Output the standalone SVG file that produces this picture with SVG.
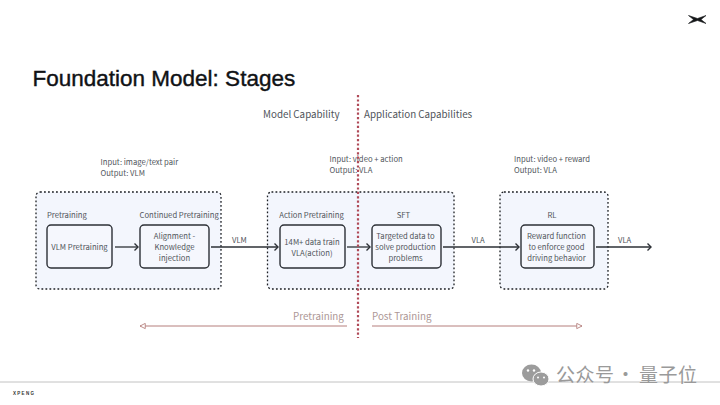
<svg xmlns="http://www.w3.org/2000/svg" width="720" height="405" viewBox="0 0 720 405">
<style>
text{font-family:"Noto Sans CJK SC","Noto Sans",sans-serif;font-size:7.7px;fill:#50555b}
.m{text-anchor:middle}
.group{fill:#f3f6fd;stroke:#1c1f24;stroke-width:1.3;stroke-dasharray:1.8 2.2}
.inner{fill:#f5f7fd;stroke:#2c3036;stroke-width:1.4}
.flow{fill:none;stroke:#2c3036;stroke-width:1.3}
.span{stroke:#b57f7c;stroke-width:1;fill:none}
.big{font-size:9.8px}
.red{font-size:9.8px;fill:#ad9796}
.cjk{font-size:19px;fill:#9a9a9a;font-family:"Noto Sans CJK SC",sans-serif;letter-spacing:.5px}
</style>
<defs>
<marker id="arr" viewBox="0 0 8 8" refX="7" refY="4" markerWidth="8" markerHeight="8" markerUnits="userSpaceOnUse" orient="auto"><path d="M3.500 0.500L7 4L3.500 7.500" fill="none" stroke="#2c3036" stroke-width="1.400"/></marker>
<marker id="open" viewBox="0 0 8 8" refX="7" refY="4" markerWidth="7" markerHeight="7" markerUnits="userSpaceOnUse" orient="auto"><path d="M1 1L7 4L1 7Z" fill="#fff" stroke="#b57f7c" stroke-width="1"/></marker>
</defs>
<rect width="720" height="405" fill="#fff"/>
<g id="logo"><path d="M688.500 15.500L697.500 18.500L706 15.500L701 19.500L706 23.500L697.500 20.500L688.500 23.500L693.500 19.500Z" fill="#15171a" stroke="#15171a" stroke-width=".6"/></g>
<g id="title"><text x="32.500" y="85.500" style="font-family:'Liberation Sans',sans-serif;font-size:22.500px;fill:#101215;stroke:#101215;stroke-width:.4px">Foundation Model: Stages</text></g>
<g id="headings">
<text class="big" x="263" y="118">Model Capability</text>
<text class="big" x="364" y="118">Application Capabilities</text>
</g>
<g id="stage-1">
<text x="100.500" y="165">Input: image/text pair</text>
<text x="100.500" y="176">Output: VLM</text>
<rect class="group" x="36" y="192" width="185" height="97" rx="4"/>
<text x="47" y="218">Pretraining</text>
<text x="139.500" y="218">Continued Pretraining</text>
</g>
<g id="vlm-pretraining">
<rect class="inner" x="47" y="225" width="65" height="43" rx="4"/>
<text class="m" x="79.500" y="250">VLM Pretraining</text>
</g>
<g id="alignment">
<rect class="inner" x="140" y="225" width="69" height="43" rx="4"/>
<text class="m" x="174.500" y="239">Alignment -</text>
<text class="m" x="174.500" y="250">Knowledge</text>
<text class="m" x="174.500" y="261">injection</text>
</g>
<g id="stage-2">
<text x="329.500" y="162">Input: video + action</text>
<text x="329.500" y="173">Output: VLA</text>
<rect class="group" x="267.500" y="192" width="186.500" height="97" rx="4"/>
<text class="m" x="311.500" y="218">Action Pretraining</text>
<text class="m" x="403.500" y="218">SFT</text>
</g>
<g id="action-pretraining">
<rect class="inner" x="280" y="225" width="65" height="43" rx="4"/>
<text class="m" x="312" y="244.500">14M+ data train</text>
<text class="m" x="312" y="255.500">VLA(action)</text>
</g>
<g id="sft">
<rect class="inner" x="372" y="225" width="69" height="43" rx="4"/>
<text class="m" x="405.500" y="239">Targeted data to</text>
<text class="m" x="405.500" y="250">solve production</text>
<text class="m" x="405.500" y="261">problems</text>
</g>
<g id="stage-3">
<text x="514" y="162">Input: video + reward</text>
<text x="514" y="173">Output: VLA</text>
<rect class="group" x="500" y="192" width="108" height="97" rx="4"/>
<text class="m" x="552" y="218">RL</text>
</g>
<g id="rl">
<rect class="inner" x="521" y="225" width="73" height="43" rx="4"/>
<text class="m" x="556.500" y="239">Reward function</text>
<text class="m" x="556.500" y="250">to enforce good</text>
<text class="m" x="556.500" y="261">driving behavior</text>
</g>
<g id="connectors">
<path class="flow" marker-end="url(#arr)" d="M115 247H138"/>
<path class="flow" marker-end="url(#arr)" d="M211 247H278"/>
<path class="flow" marker-end="url(#arr)" d="M347 247H370"/>
<path class="flow" marker-end="url(#arr)" d="M443 247H519"/>
<path class="flow" marker-end="url(#arr)" d="M596 247H651"/>
<path class="span" marker-end="url(#open)" d="M347 326H140"/>
<path class="span" marker-end="url(#open)" d="M372 326H582"/>
<path d="M358 95V338" fill="none" stroke="#b04a58" stroke-width="2.200" stroke-dasharray="2.200 2.200"/>
</g>
<g id="connector-labels">
<text x="232" y="243">VLM</text>
<text x="471.500" y="243">VLA</text>
<text x="618" y="243">VLA</text>
<text class="red" x="293" y="319.500">Pretraining</text>
<text class="red" x="372" y="319.500">Post Training</text>
</g>
<g id="footer">
<path d="M0 382H720" stroke="#c2c2c2" stroke-width="1"/>
<text x="13" y="394.500" style="font-family:'Liberation Sans',sans-serif;font-size:4.500px;letter-spacing:1.300px;fill:#333;font-weight:700">XPENG</text>
</g>
<g id="watermark">
<ellipse cx="531.500" cy="373" rx="9.500" ry="8.500" fill="#9c9c9c"/>
<ellipse cx="541" cy="379" rx="8" ry="7" fill="#9c9c9c" stroke="#fff" stroke-width="1"/>
<circle cx="528" cy="370.500" r="1.200" fill="#fff"/><circle cx="534" cy="370.500" r="1.200" fill="#fff"/>
<circle cx="538" cy="377.500" r="1" fill="#fff"/><circle cx="544" cy="377.500" r="1" fill="#fff"/>
<text class="cjk" x="556" y="382">公众号</text>
<text class="cjk" x="616" y="382">·</text>
<text class="cjk" x="639" y="382">量子位</text>
</g>
</svg>
